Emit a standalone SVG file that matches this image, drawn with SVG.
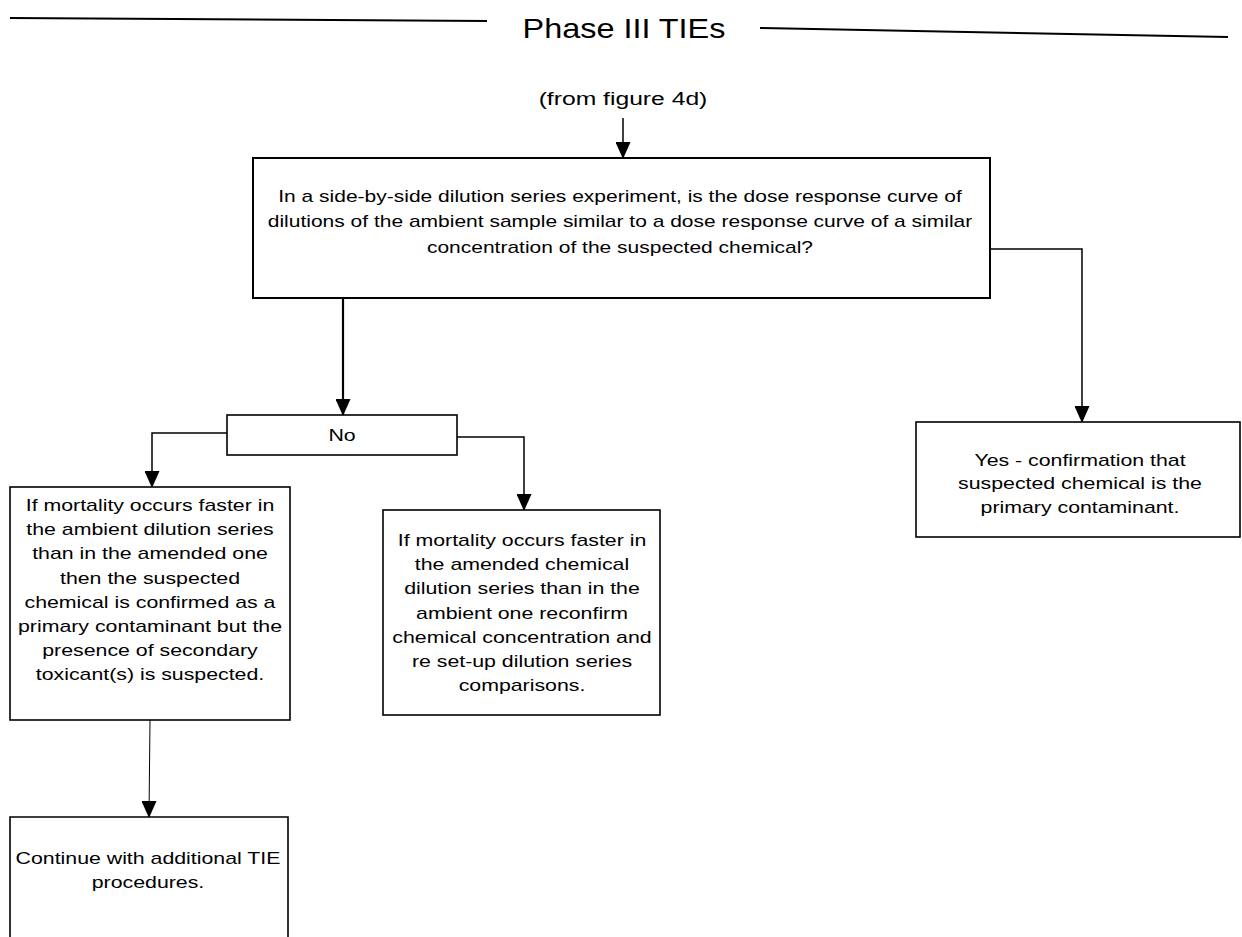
<svg xmlns="http://www.w3.org/2000/svg" width="1242" height="937" viewBox="0 0 1242 937">
<style>
.t{font-family:"Liberation Sans",Arial,sans-serif;font-size:16.4px;fill:#000}
.box{fill:#fff;stroke:#000;stroke-width:1.6}
.con{fill:none;stroke:#000;stroke-width:1.5}
</style>
<defs>
<marker id="ad" markerUnits="userSpaceOnUse" markerWidth="15" markerHeight="17" refX="7.5" refY="16" viewBox="0 0 15 17">
<path d="M0,0 L15,0 L7.5,17 Z" fill="#000"/>
</marker>
</defs>
<rect width="1242" height="937" fill="#fff"/>
<g id="title">
<line x1="10" y1="18" x2="487" y2="21" stroke="#000" stroke-width="2"/>
<line x1="760" y1="28" x2="1228" y2="37" stroke="#000" stroke-width="2"/>
<text class="t" transform="translate(624,38) scale(1.2,1)" text-anchor="middle" style="font-size:27px">Phase III TIEs</text>
</g>
<g id="from">
<text class="t" transform="translate(623,105) scale(1.3,1)" text-anchor="middle" style="font-size:19px">(from figure 4d)</text>
</g>
<g id="connectors">
<line class="con" x1="623" y1="118" x2="623" y2="158" marker-end="url(#ad)"/>
<line class="con" x1="343" y1="298" x2="343" y2="415" style="stroke-width:2.2" marker-end="url(#ad)"/>
<polyline class="con" points="990,249 1082,249 1082,422" marker-end="url(#ad)"/>
<polyline class="con" points="227,433 152,433 152,487" marker-end="url(#ad)"/>
<polyline class="con" points="457,437 524,437 524,510" marker-end="url(#ad)"/>
<line class="con" x1="150" y1="720" x2="149" y2="817" style="stroke-width:1" marker-end="url(#ad)"/>
</g>
<g id="question">
<rect class="box" x="253" y="158" width="737" height="140" style="stroke-width:2"/>
<text class="t" transform="translate(620,202) scale(1.28,1)" text-anchor="middle"><tspan x="0" dy="0">In a side-by-side dilution series experiment, is the dose response curve of</tspan><tspan x="0" dy="25.5">dilutions of the ambient sample similar to a dose response curve of a similar</tspan><tspan x="0" dy="26">concentration of the suspected chemical?</tspan></text>
</g>
<g id="yes">
<rect class="box" x="916" y="422" width="324" height="115"/>
<text class="t" transform="translate(1080,466) scale(1.3,1)" text-anchor="middle"><tspan x="0" dy="0">Yes - confirmation that</tspan><tspan x="0" dy="23.5">suspected chemical is the</tspan><tspan x="0" dy="23.5">primary contaminant.</tspan></text>
</g>
<g id="no">
<rect class="box" x="227" y="415" width="230" height="40"/>
<text class="t" transform="translate(342,441) scale(1.3,1)" text-anchor="middle">No</text>
</g>
<g id="ambient-faster">
<rect class="box" x="10" y="487" width="280" height="233"/>
<text class="t" transform="translate(150,511) scale(1.3,1)" text-anchor="middle"><tspan x="0" dy="0">If mortality occurs faster in</tspan><tspan x="0" dy="24.2">the ambient dilution series</tspan><tspan x="0" dy="24.2">than in the amended one</tspan><tspan x="0" dy="24.2">then the suspected</tspan><tspan x="0" dy="24.2">chemical is confirmed as a</tspan><tspan x="0" dy="24.2">primary contaminant but the</tspan><tspan x="0" dy="24.2">presence of secondary</tspan><tspan x="0" dy="24.2">toxicant(s) is suspected.</tspan></text>
</g>
<g id="amended-faster">
<rect class="box" x="383" y="510" width="277" height="205"/>
<text class="t" transform="translate(522,546) scale(1.3,1)" text-anchor="middle"><tspan x="0" dy="0">If mortality occurs faster in</tspan><tspan x="0" dy="24.2">the amended chemical</tspan><tspan x="0" dy="24.2">dilution series than in the</tspan><tspan x="0" dy="24.2">ambient one reconfirm</tspan><tspan x="0" dy="24.2">chemical concentration and</tspan><tspan x="0" dy="24.2">re set-up dilution series</tspan><tspan x="0" dy="24.2">comparisons.</tspan></text>
</g>
<g id="continue">
<path class="box" d="M10,945 L10,817 L288,817 L288,945"/>
<text class="t" transform="translate(148,864) scale(1.3,1)" text-anchor="middle"><tspan x="0" dy="0">Continue with additional TIE</tspan><tspan x="0" dy="24">procedures.</tspan></text>
</g>
</svg>
